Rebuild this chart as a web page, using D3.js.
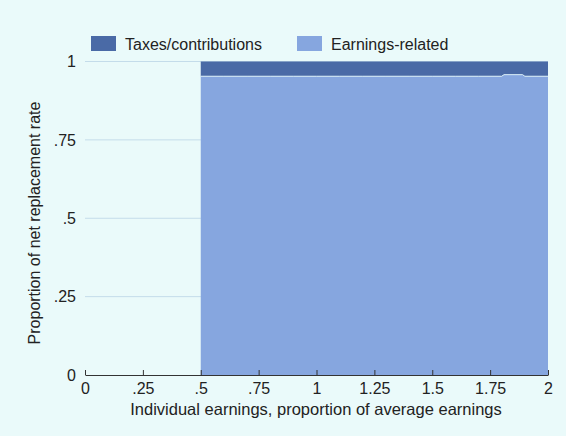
<!DOCTYPE html>
<html>
<head>
<meta charset="utf-8">
<script src="https://cdn.jsdelivr.net/npm/d3@7"></script>
<style>
  body { margin: 0; background: #eafafa; }
  svg { display: block; font-family: "Liberation Sans", Arial, sans-serif; }
</style>
</head>
<body>
<div id="chart"></div>
<script>
// individual earnings (proportion of average earnings)
var earnings = [0.5, 0.6, 0.7, 0.8, 0.9, 1.0, 1.1, 1.2, 1.3, 1.4, 1.5, 1.6, 1.7, 1.8, 1.81, 1.89, 1.9, 2.0];
// share of net replacement rate: earnings-related part
var earningsRelated = [0.953, 0.953, 0.953, 0.953, 0.953, 0.953, 0.953, 0.953, 0.953, 0.953, 0.953, 0.953, 0.953, 0.953, 0.958, 0.958, 0.953, 0.953];
// taxes/contributions part on top
var taxes = [0.047, 0.047, 0.047, 0.047, 0.047, 0.047, 0.047, 0.047, 0.047, 0.047, 0.047, 0.047, 0.047, 0.047, 0.042, 0.042, 0.047, 0.047];

var xTicks = [0, 0.25, 0.5, 0.75, 1, 1.25, 1.5, 1.75, 2];
var xTickLabels = ["0", ".25", ".5", ".75", "1", "1.25", "1.5", "1.75", "2"];
var yTicks = [0, 0.25, 0.5, 0.75, 1];
var yTickLabels = ["0", ".25", ".5", ".75", "1"];

var width = 566, height = 436;
var margin = {top: 61.5, right: 18, bottom: 61, left: 85};
var fs = 16;

var svg = d3.select("#chart").append("svg")
    .attr("width", width)
    .attr("height", height);

svg.append("rect").attr("width", width).attr("height", height).attr("fill", "#eafafa");

var x = d3.scaleLinear().domain([0, 2]).range([margin.left, width - margin.right]);
var y = d3.scaleLinear().domain([0, 1]).range([height - margin.bottom, margin.top]);

// gridlines
svg.append("g").selectAll("line")
  .data(yTicks.slice(1))
  .enter().append("line")
    .attr("x1", x(0)).attr("x2", x(2))
    .attr("y1", d => y(d)).attr("y2", d => y(d))
    .attr("stroke", "#c4dcea").attr("stroke-width", 1);

var data = earnings.map(function(e, i) {
  return {x: e, er: earningsRelated[i], tx: taxes[i]};
});

var areaEr = d3.area()
  .x(d => x(d.x))
  .y0(y(0))
  .y1(d => y(d.er));

var areaTx = d3.area()
  .x(d => x(d.x))
  .y0(d => y(d.er))
  .y1(d => y(d.er + d.tx));

svg.append("path").datum(data).attr("d", areaTx).attr("fill", "#4a6aa6");
svg.append("path").datum(data).attr("d", areaEr).attr("fill", "#86a6df");

svg.append("path").datum(data)
  .attr("d", d3.line().x(d => x(d.x)).y(d => y(d.er)))
  .attr("fill", "none").attr("stroke", "#d8ecf6").attr("stroke-width", 1);

// x axis
var xAxis = d3.axisBottom(x)
  .tickValues(xTicks)
  .tickFormat((d, i) => xTickLabels[i])
  .tickSizeInner(-5).tickSizeOuter(0).tickPadding(3);

var gx = svg.append("g")
  .attr("transform", "translate(0," + y(0) + ")")
  .call(xAxis);
gx.select(".domain").attr("stroke", "#333");
gx.selectAll(".tick line").attr("stroke", "#333");
gx.selectAll("text").attr("font-size", fs).attr("fill", "#222")
  .attr("font-family", "Liberation Sans, Arial, sans-serif")
  .attr("dy", null).attr("y", 19);

// y axis labels (no axis line)
var yAxis = d3.axisLeft(y)
  .tickValues(yTicks)
  .tickFormat((d, i) => yTickLabels[i])
  .tickSize(0).tickPadding(9);

var gy = svg.append("g")
  .attr("transform", "translate(" + x(0) + ",0)")
  .call(yAxis);
gy.select(".domain").remove();
gy.selectAll("text").attr("font-size", fs).attr("fill", "#222")
  .attr("font-family", "Liberation Sans, Arial, sans-serif");

// axis titles
svg.append("text")
  .attr("x", 316)
  .attr("y", 415)
  .attr("text-anchor", "middle")
  .attr("font-size", 16.5).attr("fill", "#222")
  .text("Individual earnings, proportion of average earnings");

svg.append("text")
  .attr("transform", "translate(40,223) rotate(-90)")
  .attr("text-anchor", "middle")
  .attr("font-size", fs).attr("fill", "#222")
  .text("Proportion of net replacement rate");

// legend
var legendItems = [
  {label: "Taxes/contributions", color: "#4a6aa6", x: 91},
  {label: "Earnings-related", color: "#86a6df", x: 297}
];
var lg = svg.append("g").selectAll("g").data(legendItems).enter().append("g")
  .attr("transform", d => "translate(" + d.x + ",36)");
lg.append("rect").attr("width", 25).attr("height", 15).attr("fill", d => d.color);
lg.append("text").attr("x", 34).attr("y", 14)
  .attr("font-size", fs).attr("fill", "#222")
  .text(d => d.label);
</script>
</body>
</html>
